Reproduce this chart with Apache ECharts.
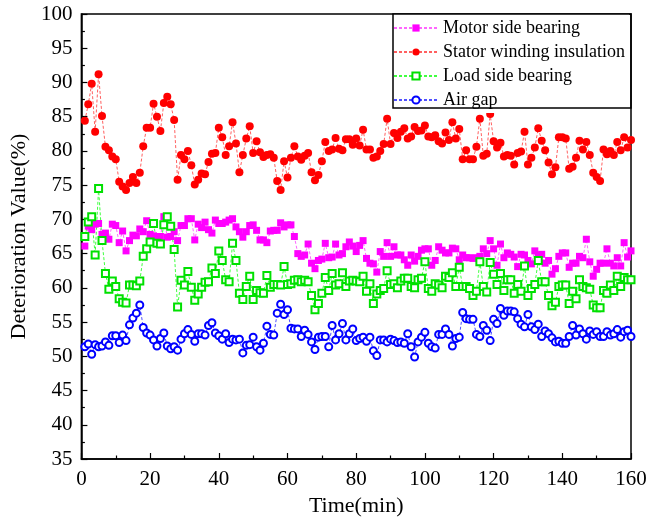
<!DOCTYPE html>
<html>
<head>
<meta charset="utf-8">
<script src="https://cdn.jsdelivr.net/npm/echarts@6/dist/echarts.min.js"></script>
<style>
html,body{margin:0;padding:0;background:#fff;}
#chart{width:666px;height:528px;}
</style>
</head>
<body>
<div id="chart"></div>
<script>
// Time (min)
var times = [1,2,3,4,5,6,7,8,9,10,11,12,13,14,15,16,17,18,19,20,
21,22,23,24,25,26,27,28,29,30,31,32,33,34,35,36,37,38,39,40,
41,42,43,44,45,46,47,48,49,50,51,52,53,54,55,56,57,58,59,60,
61,62,63,64,65,66,67,68,69,70,71,72,73,74,75,76,77,78,79,80,
81,82,83,84,85,86,87,88,89,90,91,92,93,94,95,96,97,98,99,100,
101,102,103,104,105,106,107,108,109,110,111,112,113,114,115,116,117,118,119,120,
121,122,123,124,125,126,127,128,129,130,131,132,133,134,135,136,137,138,139,140,
141,142,143,144,145,146,147,148,149,150,151,152,153,154,155,156,157,158,159,160];

var motorSideBearing = [66.1,69.0,68.5,69.3,69.4,67.8,68.0,67.1,69.3,69.1,66.6,68.3,65.4,66.9,67.7,67.6,68.6,68.2,69.8,67.8,
67.6,67.4,67.5,70.4,67.4,67.5,68.2,66.9,69.1,69.1,70.1,70.1,67.0,69.3,68.8,69.6,68.5,68.0,69.9,69.4,
69.4,69.6,69.9,70.1,68.9,68.2,67.4,68.2,69.1,69.2,68.4,67.0,67.0,66.6,68.3,68.4,68.4,69.5,68.9,69.2,
69.2,67.5,65.0,64.6,64.8,66.4,63.6,62.8,64.0,64.2,66.5,64.4,64.5,66.4,64.8,65.0,66.0,66.7,66.1,65.3,
66.2,66.9,64.3,63.6,63.5,62.3,65.3,64.6,66.6,64.6,66.0,64.8,64.8,64.1,63.3,64.8,63.9,64.6,65.5,65.7,
65.7,63.3,64.0,66.0,65.5,65.1,65.1,65.8,65.7,64.1,64.8,64.4,64.4,64.3,64.4,64.6,65.7,65.0,66.9,65.7,
63.3,66.4,64.4,65.1,64.9,64.5,63.1,64.9,64.8,64.0,63.5,65.4,64.8,64.9,63.6,64.0,62.0,62.8,64.6,65.1,
65.1,63.0,63.6,63.6,64.6,64.4,67.1,63.8,61.7,62.7,63.6,63.6,65.7,63.6,63.2,64.4,63.2,66.6,64.5,65.4];

var statorWindingInsulation = [84.4,86.8,89.8,82.8,91.2,85.1,80.6,80.1,79.2,78.8,75.5,74.8,74.3,75.3,76.2,75.3,76.8,80.7,83.4,83.4,
86.9,85.0,82.9,87.0,87.9,86.8,84.5,75.8,79.4,78.8,80.0,77.9,75.1,75.8,76.7,76.6,78.4,79.6,79.7,83.4,
82.0,79.4,80.7,84.2,81.1,76.9,79.4,81.8,83.6,79.7,81.4,79.8,79.1,79.4,79.5,79.0,75.6,74.3,78.5,76.1,
79.0,80.7,79.2,78.7,79.3,79.7,76.9,75.7,76.5,78.5,81.3,80.0,80.2,81.9,80.3,80.1,81.7,81.7,80.9,81.8,
80.8,83.1,80.2,80.2,79.0,79.2,80.0,81.0,84.7,81.0,82.6,81.9,82.8,83.3,81.8,82.1,83.5,82.9,83.0,83.7,
82.1,82.0,82.3,81.4,81.1,82.7,81.6,84.2,81.8,83.2,78.8,80.1,78.8,78.8,80.6,84.7,79.3,79.6,85.4,81.4,
80.5,81.2,79.2,79.4,79.3,78.0,79.7,79.9,82.8,78.0,79.0,80.5,83.3,81.5,80.1,78.3,76.6,77.6,82.0,82.0,
81.8,77.4,77.7,79.0,81.5,80.2,81.3,79.4,76.8,76.2,75.6,80.2,79.5,80.0,79.4,81.3,80.1,82.0,80.5,81.6];

var loadSideBearing = [67.5,69.6,70.4,64.8,74.5,66.9,62.1,59.8,61.0,60.2,58.4,57.9,57.8,60.4,60.4,60.3,61.0,64.6,65.7,66.7,
69.4,66.5,66.4,69.2,70.4,69.0,65.6,57.2,61.1,60.4,62.4,60.1,58.2,59.1,60.1,60.8,60.9,62.9,62.1,65.4,
64.0,61.2,60.9,66.5,64.0,59.2,58.3,60.2,61.7,58.3,59.6,59.3,59.2,61.8,60.1,60.5,60.5,60.4,63.1,60.5,
60.6,61.1,61.2,60.9,61.1,60.9,58.9,56.8,57.7,59.2,61.5,59.6,62.1,60.4,60.6,62.2,60.2,61.0,61.1,61.0,
60.9,61.7,59.5,60.6,57.7,59.1,59.6,59.9,62.5,60.5,60.6,60.0,61.0,61.4,61.4,60.2,60.0,61.2,61.4,63.8,
59.9,59.5,60.6,60.4,60.0,61.7,61.5,62.2,60.2,63.0,60.2,60.2,59.9,58.9,59.5,63.8,60.2,59.4,63.7,62.0,
60.5,62.1,59.6,61.2,61.2,59.2,60.5,59.5,63.2,58.9,59.9,60.5,64.0,60.9,60.9,58.9,57.4,57.9,60.2,60.4,
60.4,57.7,59.5,58.4,61.2,60.2,60.0,59.8,57.5,57.1,57.1,59.6,59.2,60.4,59.6,61.7,60.2,61.5,61.2,61.2];

var airGap = [51.4,51.8,50.3,51.7,51.4,51.5,52.1,51.6,53.0,53.0,52.0,53.1,52.3,54.6,55.6,56.3,57.5,54.2,53.4,53.1,
52.4,51.5,52.6,53.4,51.5,51.1,51.4,50.9,52.5,53.3,53.9,53.2,52.2,53.3,53.3,53.1,54.5,54.9,53.4,53.0,
52.5,53.3,52.0,52.5,52.4,52.5,50.5,51.6,51.7,52.8,51.4,50.9,51.9,54.4,53.2,53.1,56.3,57.6,56.1,56.8,
54.1,54.0,54.0,52.9,53.8,53.2,52.1,51.0,52.8,52.9,52.9,51.4,54.5,52.4,53.3,54.8,52.4,53.3,54.0,52.3,
52.6,52.8,52.2,52.8,50.8,50.1,52.4,52.4,52.1,52.5,52.3,52.0,52.1,51.9,53.3,51.4,49.9,52.1,52.8,53.5,
51.9,51.4,51.2,53.2,53.2,54.0,53.2,51.5,52.6,52.8,56.4,55.5,55.4,55.4,53.2,52.9,54.5,53.8,52.3,55.4,
54.8,57.0,56.0,56.6,56.6,56.5,55.5,54.7,54.3,56.1,54.3,53.9,54.7,52.9,53.7,53.3,52.7,52.1,52.2,51.9,
51.9,52.9,54.5,53.1,54.0,53.3,52.5,53.7,53.2,53.6,52.9,52.9,53.6,53.1,53.3,53.9,52.8,53.6,53.8,52.9];

var seriesNames = ['Motor side bearing', 'Stator winding insulation', 'Load side bearing', 'Air gap'];
var xTickValues = [0, 20, 40, 60, 80, 100, 120, 140, 160];
var yTickValues = [35, 40, 45, 50, 55, 60, 65, 70, 75, 80, 85, 90, 95, 100];

function pairs(vals) {
  return vals.map(function (v, i) { return [times[i], v]; });
}

var FONT = '"Liberation Serif", "Times New Roman", serif';
var chart = echarts.init(document.getElementById('chart'), null, {renderer: 'canvas'});

function mkSeries(name, vals, symbol, size, symColor, lineColor, hollow) {
  return {
    name: name,
    type: 'line',
    data: pairs(vals),
    symbol: symbol,
    symbolSize: size,
    showAllSymbol: true,
    animation: false,
    lineStyle: {color: lineColor, width: 1, type: [3, 2]},
    itemStyle: hollow ? {color: symColor, borderColor: symColor, borderWidth: 1} : {color: symColor, borderWidth: 0},
    emphasis: {disabled: true}
  };
}

chart.setOption({
  animation: false,
  backgroundColor: '#fff',
  grid: {left: 79, right: 35, top: 14, bottom: 69, show: true, borderColor: '#000', borderWidth: 1.5, backgroundColor: 'transparent'},
  xAxis: {
    type: 'value', min: xTickValues[0], max: xTickValues[xTickValues.length - 1], interval: 20,
    name: 'Time(min)', nameLocation: 'middle', nameGap: 36,
    nameTextStyle: {fontFamily: FONT, fontSize: 22, color: '#000'},
    axisLine: {show: true, onZero: false, lineStyle: {color: '#000', width: 1.5}},
    axisTick: {show: true, inside: true, length: 6, lineStyle: {color: '#000', width: 1.2}},
    minorTick: {show: true, splitNumber: 2, length: 3.5, lineStyle: {color: '#000', width: 1.2}},
    axisLabel: {fontFamily: FONT, fontSize: 21, color: '#000', margin: 10},
    splitLine: {show: false}
  },
  yAxis: {
    type: 'value', min: yTickValues[0], max: yTickValues[yTickValues.length - 1], interval: 5,
    name: 'Deterioration Value(%)', nameLocation: 'middle', nameGap: 45,
    nameTextStyle: {fontFamily: FONT, fontSize: 22, color: '#000'},
    axisLine: {show: true, onZero: false, lineStyle: {color: '#000', width: 1.5}},
    axisTick: {show: true, inside: true, length: 6, lineStyle: {color: '#000', width: 1.2}},
    minorTick: {show: true, splitNumber: 2, length: 3.5, lineStyle: {color: '#000', width: 1.2}},
    axisLabel: {fontFamily: FONT, fontSize: 21, color: '#000', margin: 9},
    splitLine: {show: false}
  },
  legend: {
    orient: 'vertical', left: 393, top: 14,
    padding: [5, 4, 4, 0],
    itemWidth: 44, itemHeight: 9, itemGap: 6,
    textStyle: {fontFamily: FONT, fontSize: 18, color: '#000', lineHeight: 17},
    backgroundColor: '#fff',
    data: seriesNames
  },
  graphic: [{
    type: 'rect', z: 100, silent: true,
    shape: {x: 393, y: 14, width: 238, height: 94},
    style: {fill: 'none', stroke: '#000', lineWidth: 1.5}
  }],
  series: [
    mkSeries(seriesNames[0], motorSideBearing, 'rect', 7, '#ff00ff', '#ff66ff', false),
    mkSeries(seriesNames[1], statorWindingInsulation, 'circle', 8, '#ff0000', '#ff6060', false),
    mkSeries(seriesNames[2], loadSideBearing, 'emptyRect', 7, '#00e000', '#40ff40', true),
    mkSeries(seriesNames[3], airGap, 'emptyCircle', 7, '#0000ff', '#5050ff', true)
  ]
});
</script>
</body>
</html>
